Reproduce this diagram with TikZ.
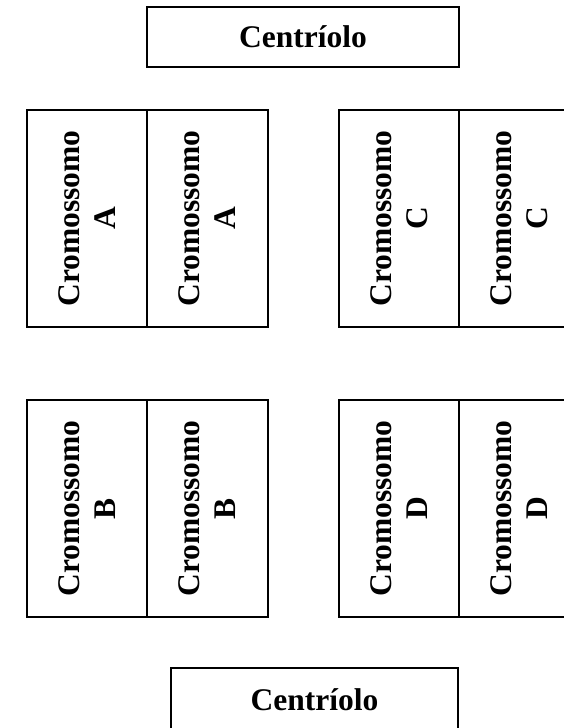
\documentclass[tikz,border=0pt]{standalone}
\usepackage{fontspec}
\setmainfont{Liberation Serif}
\begin{document}
\begin{tikzpicture}[x=1pt,y=-1pt,
  every node/.style={font=\fontsize{31.5}{36}\selectfont\bfseries},
  cell/.style={draw, line width=1.6pt, rotate=90, align=center,
    minimum width=217pt, minimum height=120.5pt, inner sep=0pt},
  centriolo/.style={draw, line width=1.6pt, inner sep=0pt}
]
\useasboundingbox (0,0) rectangle (563,728);

% centrioles
\node[centriolo, minimum width=312pt, minimum height=60pt] (ctop) at (303,37) {Centríolo};
\node[centriolo, minimum width=287pt, minimum height=64pt] (cbot) at (314.5,700) {Centríolo};

% chromosome pairs (two chromatids each)
\node[cell] (a1) at (87,218.5)    {Cromossomo\\A};
\node[cell] (a2) at (207.5,218.5) {Cromossomo\\A};
\node[cell] (c1) at (399,218.5)   {Cromossomo\\C};
\node[cell] (c2) at (519.5,218.5) {Cromossomo\\C};
\node[cell] (b1) at (87,508.5)    {Cromossomo\\B};
\node[cell] (b2) at (207.5,508.5) {Cromossomo\\B};
\node[cell] (d1) at (399,508.5)   {Cromossomo\\D};
\node[cell] (d2) at (519.5,508.5) {Cromossomo\\D};
\end{tikzpicture}
\end{document}
